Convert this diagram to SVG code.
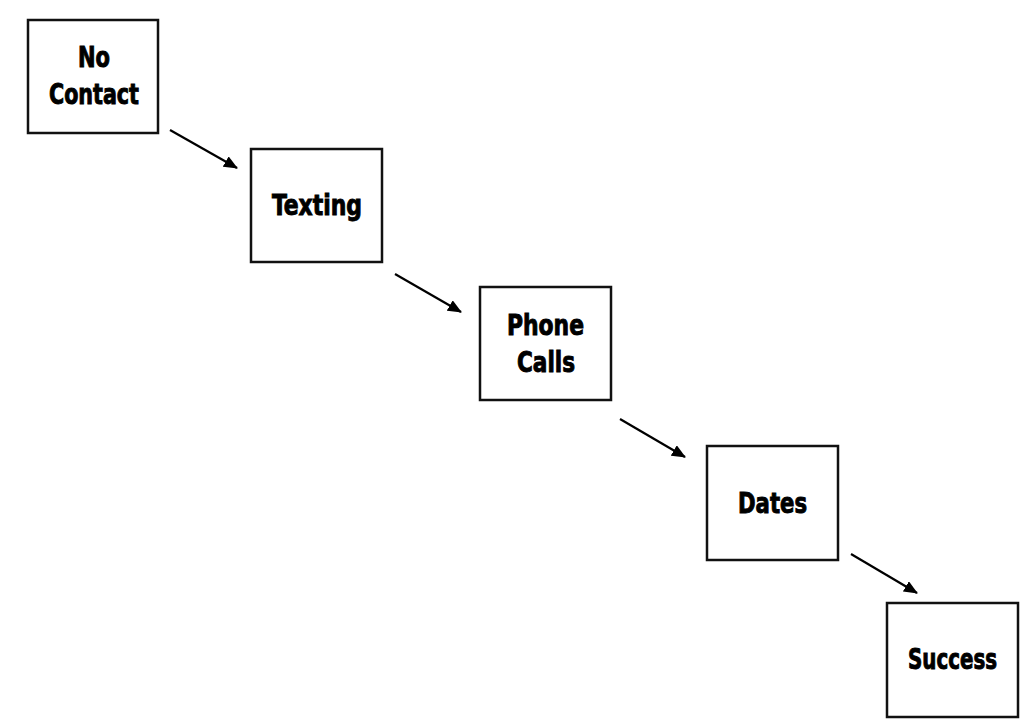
<svg xmlns="http://www.w3.org/2000/svg" width="1024" height="724" viewBox="0 0 1024 724">
<defs>
<marker id="ah" markerWidth="14" markerHeight="12" refX="13" refY="6" orient="auto" markerUnits="userSpaceOnUse" viewBox="0 0 14 12">
<path d="M0,0 L14,6 L0,12 Z" fill="#000"/>
</marker>
<style>
rect.box{fill:#fff;stroke:#111;stroke-width:2.5}
text.lbl{font-family:"DejaVu Sans","Liberation Sans",sans-serif;font-weight:bold;font-stretch:condensed;font-size:28px;fill:#000;stroke:#000;stroke-width:0.9;text-anchor:middle}
line.c{stroke:#000;stroke-width:2.2;marker-end:url(#ah)}
</style>
</defs>
<rect width="1024" height="724" fill="#fff"/>
<g id="connectors">
<line class="c" x1="170" y1="130" x2="237" y2="168"/>
<line class="c" x1="395" y1="274" x2="461" y2="312"/>
<line class="c" x1="620" y1="419" x2="685" y2="457"/>
<line class="c" x1="851" y1="554" x2="917" y2="593"/>
</g>
<g id="no-contact">
<rect class="box" x="28" y="20" width="130" height="113"/>
<text class="lbl" x="94" y="67" textLength="32" lengthAdjust="spacingAndGlyphs">No</text>
<text class="lbl" x="94" y="104" textLength="90" lengthAdjust="spacingAndGlyphs">Contact</text>
</g>
<g id="texting">
<rect class="box" x="251" y="149" width="131" height="113"/>
<text class="lbl" x="317" y="215" textLength="90" lengthAdjust="spacingAndGlyphs">Texting</text>
</g>
<g id="phone-calls">
<rect class="box" x="480" y="287" width="131" height="113"/>
<text class="lbl" x="545.5" y="335" textLength="77" lengthAdjust="spacingAndGlyphs">Phone</text>
<text class="lbl" x="546" y="372" textLength="58" lengthAdjust="spacingAndGlyphs">Calls</text>
</g>
<g id="dates">
<rect class="box" x="707" y="446" width="131" height="114"/>
<text class="lbl" x="772.5" y="513" textLength="69" lengthAdjust="spacingAndGlyphs">Dates</text>
</g>
<g id="success">
<rect class="box" x="887" y="603" width="131" height="114"/>
<text class="lbl" x="952.5" y="669" textLength="89" lengthAdjust="spacingAndGlyphs">Success</text>
</g>
</svg>
